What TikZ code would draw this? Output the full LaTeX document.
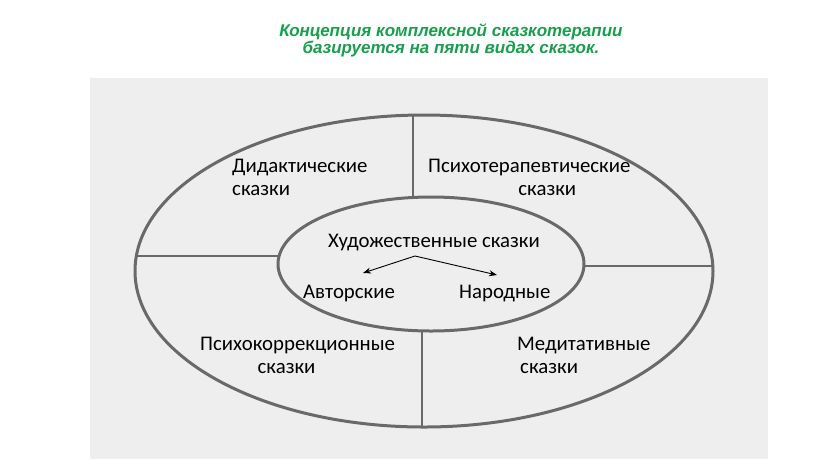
\documentclass[tikz,border=0pt]{standalone}
\usepackage{fontspec}
\setmainfont{Carlito}
\newfontfamily\titlefont{Liberation Sans}
\usetikzlibrary{arrows.meta,shapes.geometric}
\definecolor{titlegreen}{RGB}{22,160,75}
\definecolor{linegray}{RGB}{105,105,105}
\definecolor{scanbg}{RGB}{238,238,238}
\tikzset{
  ring/.style={draw=linegray, line width=3pt},
  divider/.style={draw=linegray, line width=2.6pt},
  lbl/.style={inner sep=0pt, font=\fontsize{20.8}{23}\selectfont, text=black},
  branch/.style={draw=black, line width=0.9pt, -{Stealth[length=8pt,width=6pt]}},
  titletext/.style={inner sep=0pt, align=center, text=titlegreen,
    font=\titlefont\bfseries\itshape\fontsize{17}{17}\selectfont}
}
\begin{document}
\begin{tikzpicture}[x=1pt,y=-1pt]
\useasboundingbox (0,0) rectangle (816,459);
\fill[white] (0,0) rectangle (816,459);
\fill[scanbg] (90,78) rectangle (768,459);

% title
\node[titletext, anchor=base] (title) at (451,53) {Концепция комплексной сказкотерапии\\базируется на пяти видах сказок.};

% ellipses
\node[ring, ellipse, inner sep=0pt, minimum width=578pt, minimum height=312pt] (outer) at (424,271) {};
\node[ring, ellipse, inner sep=0pt, minimum width=306pt, minimum height=134pt] (inner) at (431,264) {};

% divider end points on the ellipses
\coordinate (ot) at (413,115);
\coordinate (it) at (413,197.5);
\coordinate (ob) at (422,427);
\coordinate (ib) at (422,331);
\coordinate (ol) at (136.3,256);
\coordinate (il) at (279.1,256);
\coordinate (or) at (712.9,266);
\coordinate (ir) at (584,266);
\draw[divider] (ot) -- (it);
\draw[divider] (ib) -- (ob);
\draw[divider] (ol) -- (il);
\draw[divider] (ir) -- (or);

% labels (base = baseline of the last line)
\node[lbl, anchor=base west, align=left] (did) at (232,195) {Дидактические\\сказки};
\node[lbl, anchor=base west, align=center] (psy) at (428,195) {Психотерапевтические\\\hspace*{36pt}сказки};
\node[lbl, anchor=base west, align=center] (pk) at (200,373) {Психокоррекционные\\\hspace*{-22pt}сказки};
\node[lbl, anchor=base west, align=left] (med) at (517,373) {Медитативные\\\hspace*{3pt}сказки};
\node[lbl, anchor=base west] (hud) at (328,247) {Художественные сказки};
\node[lbl, anchor=base west] (avt) at (303,298) {Авторские};
\node[lbl, anchor=base west] (nar) at (459,298) {Народные};

% arrows
\coordinate (split) at (415,256);
\coordinate (avtend) at (363,273);
\coordinate (narend) at (497,275);
\draw[branch] (split) -- (avtend);
\draw[branch] (split) -- (narend);
\end{tikzpicture}
\end{document}
